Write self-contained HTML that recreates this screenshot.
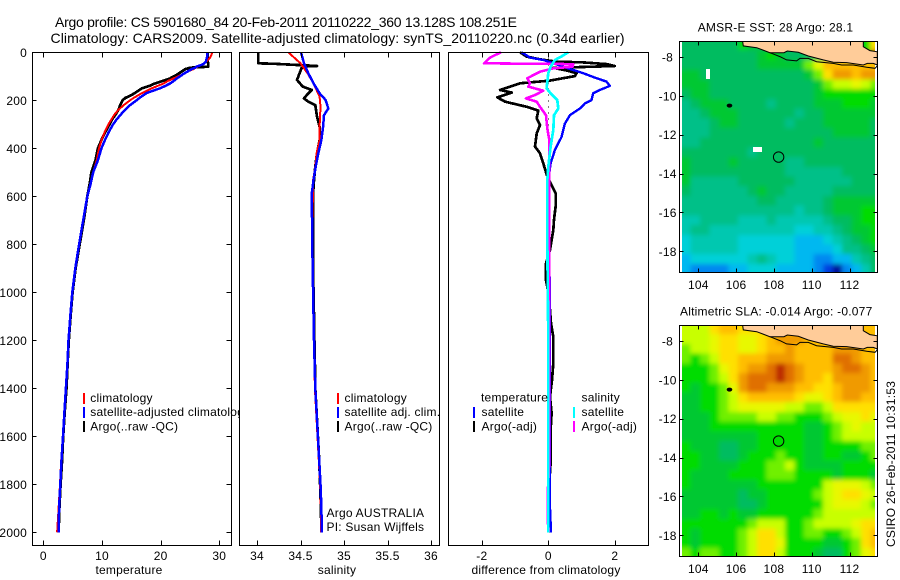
<!DOCTYPE html>
<html>
<head>
<meta charset="utf-8">
<title>Argo profile</title>
<style>
html,body{margin:0;padding:0;background:#fff;}
svg{display:block;font-family:"Liberation Sans",sans-serif;}
text{fill:#000;}
.t12{font-size:12px;letter-spacing:0.22px;}
.t14{font-size:14px;}
</style>
</head>
<body>
<svg id="chart" width="900" height="580" viewBox="0 0 900 580" xmlns="http://www.w3.org/2000/svg">
<rect width="900" height="580" fill="#fff"/>
<text class="t14" x="55" y="27" textLength="462">Argo profile: CS 5901680_84 20-Feb-2011 20110222_360 13.128S 108.251E</text>
<text class="t14" x="50.5" y="43" textLength="574">Climatology: CARS2009. Satellite-adjusted climatology: synTS_20110220.nc (0.34d earlier)</text>
<defs>
<clipPath id="clip-map-1"><rect x="682" y="42" width="193" height="230"/></clipPath>
<clipPath id="clip-map-2"><rect x="682" y="326" width="193" height="230"/></clipPath>
<filter id="soft-cells" filterUnits="userSpaceOnUse" x="640" y="0" width="260" height="580"><feGaussianBlur stdDeviation="2.4"/></filter>
</defs>
<g id="panels"></g>
<text class="t12" x="0" y="0" transform="translate(895,547) rotate(-90)" textLength="166" style="letter-spacing:0">CSIRO 26-Feb-2011 10:31:53</text>
</svg>
<script>
// ---------- temperature panel ----------
const tempDepths = [0,20,40,50,60,64,70,80,90,100,110,120,130,140,150,160,170,180,190,200,220,240,260,280,300,330,360,400,450,500,550,600,700,800,900,1000,1100,1200,1300,1400,1500,1600,1700,1800,1900,2000];
const tempArgo = [28,28,28.05,28.1,28.1,25,24.2,23.6,23,22.3,21.5,20.3,19,18.1,16.8,16.2,15.6,14.9,14,13.5,13.1,12.8,12.3,11.7,11.3,10.6,10,9.3,8.9,8.2,7.9,7.5,6.9,6.2,5.5,5,4.65,4.35,4.15,3.95,3.65,3.4,3.2,2.95,2.75,2.6];
const tempClim = [28.8,28.5,27.7,27.1,26.3,26,25.6,24.6,23.9,23,22.1,21.2,20.5,19.5,18.5,17.6,16.8,16.1,15.4,14.8,13.7,12.8,12.1,11.6,11.1,10.5,10,9.5,9.1,8.5,8,7.5,6.8,6.1,5.45,4.95,4.6,4.3,4.1,3.85,3.6,3.35,3.05,2.85,2.6,2.35];
const tempAdj = [27.95,27.9,27.7,27.2,26.1,25.9,25.3,24.6,23.9,23.3,22.7,22.2,21.6,20.8,19.9,18.7,17.6,17,16.4,15.9,14.8,13.9,13.2,12.5,11.9,11.2,10.6,9.9,9.3,8.5,8.05,7.5,6.8,6.1,5.45,4.95,4.6,4.3,4.1,3.85,3.6,3.35,3.1,2.9,2.7,2.6];
const tempTicks = [0,10,20,30];
const depthTicks = [0,200,400,600,800,1000,1200,1400,1600,1800,2000];

// ---------- salinity panel ----------
const salArgoDepths = [0,46,48,57,59,67,87,115,143,157,171,192,206,220,268,310,365,421,476,532,588,643,782,900,1000,1100,1200,1300,1400,1500,1600,1700,1800,1900,2000];
const salArgo = [34.015,34.015,34.2,34.69,34.55,34.51,34.49,34.46,34.525,34.63,34.59,34.54,34.59,34.67,34.69,34.72,34.72,34.69,34.67,34.655,34.645,34.645,34.645,34.645,34.65,34.655,34.66,34.665,34.67,34.685,34.7,34.715,34.725,34.735,34.74];
const salClimDepths = [0,46,87,129,185,227,310,365,421,476,532,782,1000,1200,1400,1500,1600,1700,1800,1900,2000];
const salClim = [34.36,34.5,34.58,34.65,34.72,34.73,34.72,34.72,34.685,34.67,34.645,34.635,34.645,34.655,34.665,34.68,34.695,34.71,34.725,34.735,34.735];
const salAdjDepths = [0,46,87,129,171,199,234,262,310,365,421,476,532,588,782,1000,1200,1400,1500,1600,1700,1800,1900,2000];
const salAdj = [34.506,34.54,34.59,34.65,34.72,34.79,34.82,34.77,34.76,34.74,34.705,34.675,34.65,34.63,34.635,34.645,34.655,34.67,34.685,34.7,34.715,34.73,34.74,34.745];
const salTicks = [34,34.5,35,35.5,36];

// ---------- difference panel ----------
const diffTempArgoDepths = [0,18,29,39,42,49,57,65,76,87,99,118,129,157,168,188,206,227,243,275,303,338,393,421,463,518,546,587,643,698,740,823,880,950,1000,1073,1130,1185,1296,1365,1435,1504,1574,1713,1852,2000];
const diffTempArgo = [-0.85,-0.65,-0.25,0.25,1.05,1.75,2,0.15,0.55,0.85,0.8,0.05,-0.85,-1.45,-1.1,-1.53,-1.3,-0.65,-0.3,-0.35,-0.25,-0.35,-0.4,-0.25,-0.15,-0.03,0.07,0.22,0.22,0.17,0.15,0.05,-0.07,-0.07,0,0.05,0.08,0.15,0.15,0.11,0.05,0.1,0.07,0.07,0,0.05];
const diffTempSatDepths = [0,22,32,53,67,87,108,122,140,157,171,199,213,234,262,297,352,407,463,505,782,1200,1600,1900,2000];
const diffTempSat = [-0.8,-0.55,-0.15,0.3,0.6,1.05,1.45,1.75,1.85,1.55,1.35,1.3,1.1,0.95,0.65,0.5,0.4,0.2,0.07,0.03,0.03,0.05,0.05,0.05,0.08];
const diffSalArgoDepths = [0,22,46,47,48,50,60,67,81,108,129,143,160,178,192,206,227,262,317,365,782,1200,1700,1850,1950,2000];
const diffSalArgo = [-1.43,-1.75,-1.93,-1,0.2,0.75,0.73,0.15,-0.25,-0.63,-0.55,-0.6,-0.15,-0.4,-0.67,-0.35,-0.25,-0.07,-0.03,0.03,0.03,0.03,0.03,-0.02,-0.02,0.02];
const diffSalSatDepths = [0,17,32,60,87,122,150,171,199,234,262,324,393,476,532,782,1200,1800,2000];
const diffSalSat = [0.6,0.4,0.2,0.07,0,-0.03,-0.05,0.07,0.27,0.3,0.17,0.15,0.07,0,-0.03,-0.03,0,0,0];
const diffTicks = [-2,0,2];

// ---------- maps ----------
const lonTicks = [104,106,108,110,112];
const latTicks = [-8,-10,-12,-14,-16,-18];
const colorScale = ['#000c9c','#0040e0','#0088f0','#00b8f0','#00d0d8','#00c8b0','#00c088','#00bc60','#00c830','#00dc00','#70f000','#c8ff00','#e8f800','#ffe000','#ffbe00','#f09a00','#e07000','#bc2c00'];
const sstGrid = [
[7,7,7,7,7,7,9,8,7,7,7,7,7,7,7,7,7,7,7,9,13],
[7,7,7,7,7,7,7,7,8,9,8,7,7,7,7,7,7,7,7,9,17],
[7,7,7,7,7,7,7,7,8,8,8,8,8,10,12,14,14,14,14,14,14],
[8,8,7,7,7,7,7,7,7,7,7,7,7,8,10,13,15,15,14,15,15],
[8,8,8,7,7,7,7,7,7,7,7,7,7,7,8,10,11,11,12,11,10],
[7,8,8,7,7,7,7,7,7,7,7,7,7,7,8,9,9,9,9,9,9],
[6,7,8,8,8,7,7,7,7,6,7,7,7,7,8,8,8,9,9,9,8],
[6,6,7,8,8,8,7,7,7,7,7,7,6,7,7,8,8,8,8,8,8],
[6,6,6,7,8,8,7,7,7,7,7,6,7,7,7,8,8,8,8,8,7],
[6,6,6,7,7,7,7,7,7,7,7,7,7,7,7,7,8,8,8,8,7],
[6,6,7,7,7,7,7,7,7,7,7,7,7,7,8,7,7,7,7,7,7],
[7,7,7,7,7,7,7,6,7,7,7,7,7,7,7,7,7,7,7,7,7],
[8,7,7,7,7,8,7,7,7,7,7,6,6,7,7,7,7,7,7,7,7],
[8,7,7,7,7,7,7,7,7,7,7,6,6,6,6,6,6,7,7,7,7],
[8,6,6,6,6,6,7,7,7,7,7,7,6,6,6,6,6,6,7,7,7],
[7,6,6,6,6,6,6,7,8,7,7,6,6,6,6,6,7,7,7,7,7],
[6,6,6,6,6,6,6,6,7,7,6,6,6,6,6,7,8,8,8,8,8],
[6,6,6,6,6,6,6,6,6,6,6,6,5,6,6,7,8,8,8,9,9],
[5,5,6,6,6,6,5,5,5,6,5,5,5,5,5,6,7,7,8,9,9],
[5,6,6,5,5,5,5,5,5,5,5,5,4,4,5,5,6,7,8,8,9],
[4,5,5,5,5,5,4,4,4,4,4,4,3,3,3,4,5,6,7,8,9],
[4,5,5,5,5,5,4,4,4,4,4,4,3,3,3,3,4,6,6,7,8],
[3,4,4,4,4,4,4,5,6,5,4,4,3,3,2,2,3,3,5,6,7],
[3,2,2,2,2,3,3,4,4,4,3,3,3,3,2,1,0,2,3,5,7]
];
const slaGrid = [
[11,11,11,13,14,14,13,13,13,13,14,14,14,14,14,14,14,14,14,14,14],
[11,11,11,12,13,13,12,12,13,14,15,15,15,14,14,14,14,14,14,14,14],
[10,11,11,12,13,13,12,12,13,14,14,15,14,14,14,14,15,15,15,14,14],
[10,9,10,11,13,13,14,14,14,15,15,15,14,14,14,14,16,16,15,14,14],
[9,9,9,10,12,13,14,15,15,16,17,16,15,14,14,14,15,16,16,15,14],
[9,9,9,10,11,13,15,16,16,16,17,16,15,14,14,13,15,15,15,15,14],
[9,8,9,9,10,12,15,16,16,15,15,15,14,14,13,13,14,15,15,15,14],
[8,8,9,9,10,11,13,14,14,14,14,14,13,12,12,13,14,15,15,14,14],
[8,8,9,9,10,11,12,12,12,12,12,11,11,10,10,11,13,13,13,13,13],
[8,8,8,9,10,10,10,10,11,11,10,10,9,9,9,10,11,12,12,13,12],
[8,8,8,9,9,9,9,9,9,9,9,9,9,8,8,9,10,11,12,11,11],
[8,8,8,8,8,8,8,8,9,9,9,9,9,8,8,9,10,11,11,11,11],
[9,8,8,8,7,7,8,8,9,9,9,9,9,8,8,9,9,9,9,10,10],
[9,9,8,8,7,7,8,9,9,9,10,9,9,8,8,9,9,8,8,9,10],
[9,9,8,8,8,8,9,9,9,10,10,11,9,8,8,8,8,9,9,9,9],
[9,8,8,8,8,9,9,9,9,10,10,10,9,9,9,9,8,9,9,9,8],
[9,8,8,8,8,8,8,8,9,9,9,9,9,9,9,11,12,12,12,11,10],
[8,8,8,8,8,8,7,8,8,9,9,9,9,9,10,11,12,13,13,12,11],
[8,8,8,8,8,8,7,7,8,9,9,9,9,9,9,11,12,12,12,11,10],
[8,8,9,9,8,9,8,8,9,9,9,9,9,9,10,11,11,11,11,11,11],
[9,9,9,9,9,9,9,10,11,11,11,9,9,10,11,11,11,11,12,13,13],
[9,8,9,9,9,9,10,11,13,13,11,9,9,10,10,9,9,10,11,13,14],
[9,8,9,9,9,9,10,11,13,13,12,9,9,9,9,8,8,9,10,13,14],
[10,9,10,10,9,9,10,11,13,13,11,9,9,9,8,7,7,9,10,12,13]
];
const coastALon = [106.35,106.38,107.09,107.79,108.53,108.71,109.29,109.82,110.61,111.14,111.85,112.73,112.94,113.26,113.47];
const coastALat = [-7.21,-7.43,-7.52,-7.78,-7.78,-7.69,-7.76,-7.95,-8.15,-8.27,-8.29,-8.41,-8.33,-8.33,-8.41];
const coastBLon = [107.79,108.32,108.67,109.2,109.38,109.82,110.26,111.14,111.58,112.2,112.91,113.35,113.47];
const coastBLat = [-7.78,-7.98,-8.15,-8.2,-8.07,-8.07,-8.24,-8.33,-8.41,-8.41,-8.53,-8.58,-8.46];
const notchLon = [113.47,113.08,112.73,112.73];
const notchLat = [-7.73,-7.67,-7.47,-7.21];
const argoLon = 108.25;
const argoLat = -13.15;
const islandLon = 105.65;
const islandLat = -10.5;

// ---------- axis functions ----------
function yDepth(d){ return 52.3 + 0.24 * d; }
function xTemp(t){ return 43.3 + 5.867 * t; }
function xSal(s){ return 257 + 87 * (s - 34); }
function xDiff(v){ return 548.3 + 33.25 * v; }
function xLon(lon){ return 679.4 + 18.9 * (lon - 103); }
function yLat1(lat){ return 57 + 19.43 * (-8 - lat); }
function yLat2(lat){ return 341 + 19.43 * (-8 - lat); }

const NS = 'http://www.w3.org/2000/svg';
const root = document.getElementById('panels');
function mk(tag, attrs, parent){
  const el = document.createElementNS(NS, tag);
  for (const k in attrs) el.setAttribute(k, attrs[k]);
  (parent || root).appendChild(el);
  return el;
}
function tick(x1,y1,x2,y2,parent){
  const el = mk('line',{x1:x1,y1:y1,x2:x2,y2:y2,stroke:'#000','stroke-width':1,'shape-rendering':'crispEdges'},parent);
  
  
}
function label(str,x,y,anchor,name,parent){
  const el = mk('text',{x:x,y:y,'text-anchor':anchor||'start',class:'t12'},parent);
  el.textContent = str;
  
  
  return el;
}
function profile(vals, depths, xf, color, width, name, parent){
  const pts = vals.map((v,i)=> xf(v).toFixed(1)+','+yDepth(depths[i]).toFixed(1)).join(' ');
  const el = mk('polyline',{points:pts,fill:'none',stroke:color,'stroke-width':width,'stroke-linejoin':'round','shape-rendering':'crispEdges'},parent);
  
  
}
function panel(x0,x1,name){
  const g = mk('g',{});
  
  
  const bg = mk('rect',{x:x0-0.5,y:52,width:x1-x0+1,height:494,fill:'#fff'},g);
  
  
  return g;
}
function frame(g,x0,y0,x1,y1,name){
  const r = mk('rect',{x:x0,y:y0,width:x1-x0,height:y1-y0,fill:'none',stroke:'#000','stroke-width':1,'shape-rendering':'crispEdges'},g);
  
  
}
function legendMark(g,x,y,color,name){
  const l = mk('rect',{x:x-1,y:y,width:2,height:11,fill:color},g);
  
  
}
function xTicks(g,vals,xf,labelFn){
  vals.forEach(v=>{
    const x = Math.round(xf(v))+0.5;
    tick(x,52.5,x,57.5,g);
    tick(x,545.5,x,540.5,g);
    label(labelFn(v),xf(v),560,'middle','x-tick-label',g);
  });
}

// Panel 1: temperature
const p1 = panel(32.5,231.5,'temperature-panel');
profile(tempArgo,tempDepths,xTemp,'#000',2.7,'temperature-argo-line',p1);
profile(tempClim,tempDepths,xTemp,'#f00',2,'temperature-climatology-line',p1);
profile(tempAdj,tempDepths,xTemp,'#00f',2.5,'temperature-satellite-adjusted-line',p1);
frame(p1,32.5,52.5,231.5,545.5,'temperature-axes-frame');
xTicks(p1,tempTicks,xTemp,String);
depthTicks.forEach(d=>{
  const y = Math.round(yDepth(d))+0.5;
  if (d>0){
    tick(32.5,y,36.5,y,p1);
    tick(231.5,y,226.5,y,p1);
  }
  label(String(d),27,yDepth(d)+4.5,'end','depth-tick-label',p1);
});
label('temperature',129,574,'middle','temperature-axis-title',p1);
legendMark(p1,84,393,'#f00','legend-marker-climatology');
label('climatology',90.3,402,'start','legend-entry-climatology',p1);
legendMark(p1,84,407,'#00f','legend-marker-satellite-adjusted');
label('satellite-adjusted climatology',90.3,416,'start','legend-entry-satellite-adjusted',p1);
legendMark(p1,84,421,'#000','legend-marker-argo');
label('Argo(..raw -QC)',90.3,430.5,'start','legend-entry-argo',p1);

// Panel 2: salinity
const p2 = panel(239.5,439.5,'salinity-panel');
profile(salArgo,salArgoDepths,xSal,'#000',2.7,'salinity-argo-line',p2);
profile(salClim,salClimDepths,xSal,'#f00',2,'salinity-climatology-line',p2);
profile(salAdj,salAdjDepths,xSal,'#00f',2.5,'salinity-satellite-adjusted-line',p2);
frame(p2,239.5,52.5,439.5,545.5,'salinity-axes-frame');
xTicks(p2,salTicks,xSal,String);
label('salinity',337,574,'middle','salinity-axis-title',p2);
legendMark(p2,338,393,'#f00','legend-marker-salinity-climatology');
label('climatology',344.5,402,'start','legend-entry-salinity-climatology',p2);
legendMark(p2,338,407,'#00f','legend-marker-salinity-adjusted');
label('satellite adj. clim.',344.5,416,'start','legend-entry-salinity-adjusted',p2);
legendMark(p2,338,421,'#000','legend-marker-salinity-argo');
label('Argo(..raw -QC)',344.5,430.5,'start','legend-entry-salinity-argo',p2);
label('Argo AUSTRALIA',326.5,517,'start','float-program-label',p2);
label('PI: Susan Wijffels',326.5,531,'start','principal-investigator-label',p2);

// Panel 3: differences
const p3 = panel(448.5,648.5,'difference-panel');
const zero = mk('line',{x1:xDiff(0),y1:yDepth(0),x2:xDiff(0),y2:yDepth(2000),stroke:'#000','stroke-width':1,'stroke-dasharray':'1 5','shape-rendering':'crispEdges'},p3);


profile(diffTempArgo,diffTempArgoDepths,xDiff,'#000',2.7,'difference-temperature-argo-line',p3);
profile(diffTempSat,diffTempSatDepths,xDiff,'#00f',2.4,'difference-temperature-satellite-line',p3);
profile(diffSalArgo,diffSalArgoDepths,xDiff,'#f0f',2.6,'difference-salinity-argo-line',p3);
profile(diffSalSat,diffSalSatDepths,xDiff,'#0ff',2.7,'difference-salinity-satellite-line',p3);
frame(p3,448.5,52.5,648.5,545.5,'difference-axes-frame');
xTicks(p3,diffTicks,xDiff,String);
label('difference from climatology',546,574,'middle','difference-axis-title',p3);
label('temperature',481,401.5,'start','legend-heading-temperature',p3);
legendMark(p3,474,407,'#00f','legend-marker-temperature-satellite');
label('satellite',481.5,416,'start','legend-entry-temperature-satellite',p3);
legendMark(p3,474,421,'#000','legend-marker-temperature-argo');
label('Argo(-adj)',481.5,430.5,'start','legend-entry-temperature-argo',p3);
label('salinity',581.5,401.5,'start','legend-heading-salinity',p3);
legendMark(p3,574,407,'#0ff','legend-marker-salinity-satellite');
label('satellite',581.5,416,'start','legend-entry-salinity-satellite',p3);
legendMark(p3,574,421,'#f0f','legend-marker-salinity-argo-adj');
label('Argo(-adj)',581.5,430.5,'start','legend-entry-salinity-argo-adj',p3);

// Maps
function drawMap(grid, yLat, top, bottom, clipId, titleStr, titleX, titleY, labelY, name){
  const g = mk('g',{});
  
  
  const clip = mk('g',{'clip-path':'url(#'+clipId+')'},g);
  const cells = mk('g',{filter:'url(#soft-cells)','shape-rendering':'crispEdges'},clip);
  const lastRow = grid.length - 1;
  grid.forEach((row,r)=>{
    const lastCol = row.length - 1;
    row.forEach((v,c)=>{
      const lonL = 103.1 + 0.5*c, latT = -7.15 - 0.5*r;
      // outer cells run past the clip so the softening does not fade at the edges
      const x0 = xLon(lonL) - (c===0 ? 12 : 0);
      const x1 = xLon(lonL+0.5) + (c===lastCol ? 12 : 0);
      const y0 = yLat(latT) - (r===0 ? 12 : 0);
      const y1 = yLat(latT-0.5) + (r===lastRow ? 12 : 0);
      const cell = mk('rect',{x:x0.toFixed(2),y:y0.toFixed(2),width:(x1-x0+0.3).toFixed(2),height:(y1-y0+0.3).toFixed(2),fill:colorScale[v]},cells);
      
      
    });
  });
  const land = coastALon.map((lon,i)=>xLon(lon).toFixed(1)+','+yLat(coastALat[i]).toFixed(1))
    .concat(notchLon.map((lon,i)=>xLon(lon).toFixed(1)+','+yLat(notchLat[i]).toFixed(1))).join(' ');
  const lp = mk('polygon',{points:land,fill:'#ffcc99'},g);
  
  
  const ca = mk('polyline',{points:land,fill:'none',stroke:'#000','stroke-width':1},g);
  
  
  const cb = mk('polyline',{points:coastBLon.map((lon,i)=>xLon(lon).toFixed(1)+','+yLat(coastBLat[i]).toFixed(1)).join(' '),fill:'none',stroke:'#000','stroke-width':1},g);
  
  
  const isl = mk('ellipse',{cx:xLon(islandLon),cy:yLat(islandLat),rx:2.8,ry:2,fill:'#000'},g);
  
  
  const circ = mk('circle',{cx:xLon(argoLon),cy:yLat(argoLat),r:5.2,fill:'none',stroke:'#000','stroke-width':1},g);
  
  
  frame(g,679.5,top,877.5,bottom,name+'-frame');
  lonTicks.forEach(lon=>{
    const x = Math.round(xLon(lon))+0.5;
    tick(x,top,x,top+4,g);
    tick(x,bottom,x,bottom-4,g);
    label(String(lon),xLon(lon),labelY,'middle','longitude-tick-label',g);
  });
  latTicks.forEach(lat=>{
    const y = Math.round(yLat(lat))+0.5;
    tick(679.5,y,683.5,y,g);
    tick(877.5,y,873.5,y,g);
    label(String(lat),lat===-8?673:676.7,yLat(lat)+4.5,'end','latitude-tick-label',g);
  });
  label(titleStr,titleX,titleY,'start','map-title',g);
  return g;
}
const m1 = drawMap(sstGrid,yLat1,41.5,272.5,'clip-map-1','AMSR-E SST: 28 Argo: 28.1',697.7,31.7,289,'sst-map');
const m2 = drawMap(slaGrid,yLat2,325.5,556.5,'clip-map-2','Altimetric SLA: -0.014 Argo: -0.077',680,315.7,573,'sla-map');

// missing-data patches in the SST map
const w1 = mk('rect',{x:706,y:69,width:4,height:10,fill:'#fff'},m1);


const w2 = mk('rect',{x:753,y:147,width:9,height:5,fill:'#fff'},m1);


</script>
</body>
</html>
